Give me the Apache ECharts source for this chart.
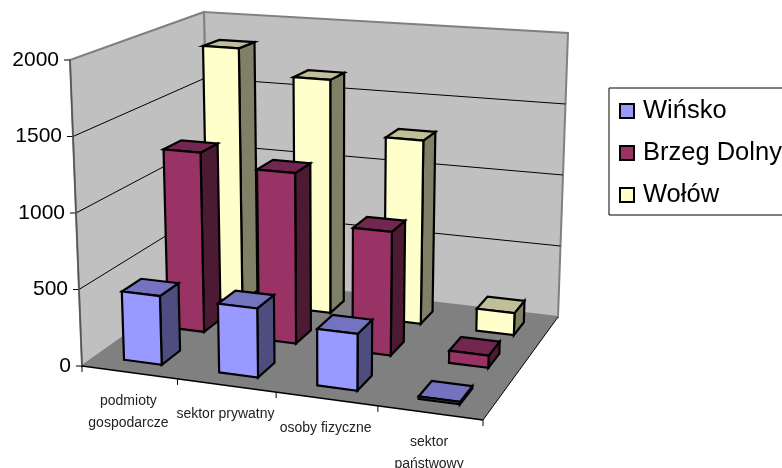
<!DOCTYPE html>
<html><head><meta charset="utf-8">
<style>html,body{margin:0;padding:0;background:#fff}#c{width:782px;height:468px}</style>
<script src="https://cdn.jsdelivr.net/npm/echarts@6/dist/echarts.min.js"></script>
</head><body><div id="c"></div>
<script>
const categories = [['podmioty','gospodarcze'],['sektor prywatny'],['osoby fizyczne'],['sektor','państwowy']];
const yTicks = [0,500,1000,1500,2000];
const winsko = [450,445,360,15];
const brzeg = [1230,1150,820,80];
const wolow = [1830,1650,1275,150];

const names = ['Wińsko','Brzeg Dolny','Wołów'];
const faces = [
 {front:'#9999FF',top:'#7373BF',side:'#4D4D80'},
 {front:'#993366',top:'#732650',side:'#4D1A33'},
 {front:'#FFFFCC',top:'#BFBF99',side:'#808066'}];

// camera: floor corners [front-left, front-right, back-right, back-left], box heights there, vertical vanishing point
const floorQ = [[82,366],[483,420],[558,317],[209,276]];
const boxH = [306,326,284,264];
const VP = [332,6740];
const barFrac = 0.40, depthFrac = 0.42;

function homog(q){
  const [a,b,c,d]=[q[0],q[1],q[2],q[3]];
  const dx1=b[0]-c[0],dx2=d[0]-c[0],sx=a[0]-b[0]+c[0]-d[0];
  const dy1=b[1]-c[1],dy2=d[1]-c[1],sy=a[1]-b[1]+c[1]-d[1];
  const den=dx1*dy2-dx2*dy1;
  const g=(sx*dy2-dx2*sy)/den,h=(dx1*sy-sx*dy1)/den;
  const A=b[0]-a[0]+g*b[0],B=d[0]-a[0]+h*d[0],C=a[0];
  const D=b[1]-a[1]+g*b[1],E=d[1]-a[1]+h*d[1],F=a[1];
  return (u,v)=>{const w=g*u+h*v+1;return [(A*u+B*v+C)/w,(D*u+E*v+F)/w];};
}
const hF=homog(floorQ);
function P(u,d,h){
  const f=hF(u,d);
  const H=(boxH[0]*(1-u)+boxH[1]*u)*(1-d)+(boxH[3]*(1-u)+boxH[2]*u)*d;
  const k=H*h;
  return [f[0]+(f[0]-VP[0])/(VP[1]-f[1])*k, f[1]-k];
}

function poly(points,fill,stroke,lw){return {type:'polygon',shape:{points},style:{fill,stroke:stroke||null,lineWidth:lw||0,lineJoin:'miter'},silent:true};}
function line(a,b,stroke,lw){return {type:'line',shape:{x1:a[0],y1:a[1],x2:b[0],y2:b[1]},style:{stroke,lineWidth:lw},silent:true};}

function renderScene(params,api){
  const cs=params.coordSys, ch=[];
  const H=v=>(cs.y+cs.height-api.coord([0,v])[1])/cs.height;
  const U=i=>(api.coord([i,0])[0]-cs.x)/cs.width;
  const bw=api.size([1,0])[0]/cs.width;
  ch.push(poly([P(0,1,0),P(1,1,0),P(1,1,1),P(0,1,1)],'#C0C0C0','#808080',2));
  ch.push(poly([P(0,0,0),P(0,1,0),P(0,1,1),P(0,0,1)],'#C0C0C0','#808080',2));
  ch.push(poly([P(0,0,0),P(1,0,0),P(1,1,0),P(0,1,0)],'#808080'));
  yTicks.forEach(v=>{
    const h=H(v);
    if(v>0&&v<2000){
      ch.push(line(P(0,0,h),P(0,1,h),'#000',1));
      ch.push(line(P(0,1,h),P(1,1,h),'#000',1));
    }
    const a=P(0,0,h);
    ch.push(line([a[0]-6,a[1]],a,'#000',1));
    ch.push({type:'text',style:{text:String(v),x:a[0]-11,y:a[1],align:'right',verticalAlign:'middle',fill:'#000',font:'21px "Liberation Sans"'},silent:true});
  });
  ch.push(line(P(0,0,0),P(0,0,1),'#555',1.5));
  ch.push(line(P(0,0,0),P(1,0,0),'#000',1.5));
  ch.push(line(P(1,0,0),P(1,1,0),'#000',1));
  categories.forEach((c,i)=>{
    const e0=P(U(i)-bw/2,0,0),e1=P(U(i)+bw/2,0,0),m=P(U(i),0,0);
    if(i===0) ch.push(line(e0,[e0[0],e0[1]+6],'#000',1));
    ch.push(line(e1,[e1[0],e1[1]+6],'#000',1));
    ch.push({type:'text',style:{text:c.join('\n'),x:m[0]-1,y:m[1]+18,align:'center',verticalAlign:'top',lineHeight:22,fill:'#222',font:'14px "Liberation Sans"'},silent:true});
  });
  return {type:'group',children:ch};
}

function renderBar(j){
  return function(params,api){
    const cs=params.coordSys;
    const c=api.coord([api.value(0),api.value(1)]);
    const half=api.size([1,0])[0]*barFrac/2/cs.width;
    const u=(c[0]-cs.x)/cs.width, h=(cs.y+cs.height-c[1])/cs.height;
    const u0=u-half,u1=u+half,dc=(j+0.5)/3,d0=dc-depthFrac/6,d1=dc+depthFrac/6;
    const f=faces[j];
    return {type:'group',children:[
      poly([P(u1,d0,0),P(u1,d1,0),P(u1,d1,h),P(u1,d0,h)],f.side,'#000',2.2),
      poly([P(u0,d0,h),P(u1,d0,h),P(u1,d1,h),P(u0,d1,h)],f.top,'#000',2.2),
      poly([P(u0,d0,0),P(u1,d0,0),P(u1,d0,h),P(u0,d0,h)],f.front,'#000',2.2)
    ]};
  };
}
const values=[winsko,brzeg,wolow];
const xCats=categories.map(c=>c.join(' '));
const series=[{type:'custom',name:'scene',coordinateSystem:'cartesian2d',renderItem:renderScene,data:[[0,0]],z:1,clip:false,silent:true,animation:false}];
values.forEach((vals,j)=>{
  series.push({type:'custom',name:names[j],coordinateSystem:'cartesian2d',renderItem:renderBar(j),
    data:vals.map((v,i)=>[i,v]),encode:{x:0,y:1},z:10-j,clip:false,silent:true,animation:false,
    itemStyle:{color:faces[j].front}});
});
const chart=echarts.init(document.getElementById('c'),null,{renderer:'canvas'});
chart.setOption({
  animation:false,
  grid:{left:0,top:0,width:400,height:400,show:false},
  xAxis:{type:'category',data:xCats,show:false},
  yAxis:{type:'value',min:0,max:2000,interval:500,show:false},
  legend:{orient:'vertical',left:609,top:88,padding:[10,40,7,10],itemGap:16,itemWidth:14,itemHeight:14,
    backgroundColor:'#fff',borderColor:'#000',borderWidth:1,borderRadius:0,selectedMode:false,
    data:names.map((n,j)=>({name:n,icon:'rect',itemStyle:{color:faces[j].front,borderColor:'#000',borderWidth:2}})),
    textStyle:{fontFamily:'Liberation Sans',fontSize:25.5,color:'#000',padding:[0,0,0,4]}},
  series
});
</script></body></html>
